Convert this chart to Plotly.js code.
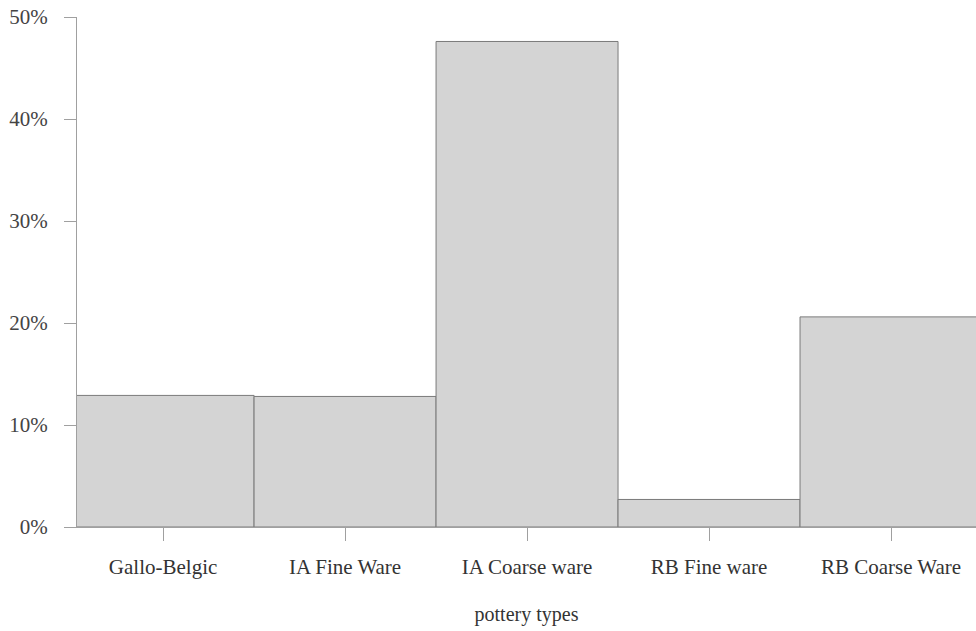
<!DOCTYPE html>
<html>
<head>
<meta charset="utf-8">
<script src="https://cdn.plot.ly/plotly-3.0.1.min.js"></script>
<style>html,body{margin:0;padding:0;background:#fff;}#chart{width:976px;height:631px;}</style>
</head>
<body>
<div id="chart"></div>
<script>
const categories = ["Gallo-Belgic", "IA Fine Ware", "IA Coarse ware", "RB Fine ware", "RB Coarse Ware"];
const percentages = [12.9, 12.8, 47.6, 2.7, 20.6];
const yTickValues = [0, 10, 20, 30, 40, 50];
const yTickLabels = ["0%", "10%", "20%", "30%", "40%", "50%"];

const trace = {
  type: "bar",
  x: categories,
  y: percentages,
  marker: { color: "#d4d4d4", line: { color: "#7a7a7a", width: 1 } },
  hoverinfo: "skip"
};

const layout = {
  width: 976, height: 631,
  margin: { l: 77, r: 0, t: 17, b: 104 },
  paper_bgcolor: "#ffffff", plot_bgcolor: "#ffffff",
  bargap: 0,
  showlegend: false,
  font: { family: "Liberation Serif, Times New Roman, serif", size: 20, color: "#333333" },
  xaxis: {
    type: "category",
    range: [-0.473, 4.467],
    showgrid: false, zeroline: false,
    showline: true, linecolor: "#a0a0a0", linewidth: 1,
    ticks: "outside", ticklen: 13, tickcolor: "#a0a0a0",
    tickfont: { size: 21, color: "#333333" },
    ticklabelstandoff: 8,
    title: { text: "pottery types", font: { size: 20, color: "#333333" }, standoff: 28 }
  },
  yaxis: {
    range: [0, 50],
    tickvals: yTickValues, ticktext: yTickLabels,
    showgrid: false, zeroline: false,
    showline: true, linecolor: "#a0a0a0", linewidth: 1,
    ticks: "outside", ticklen: 12, tickcolor: "#a0a0a0",
    tickfont: { size: 21, color: "#444444" },
    ticklabelstandoff: 12
  }
};

Plotly.newPlot("chart", [trace], layout, { displayModeBar: false, staticPlot: true });
</script>
</body>
</html>
